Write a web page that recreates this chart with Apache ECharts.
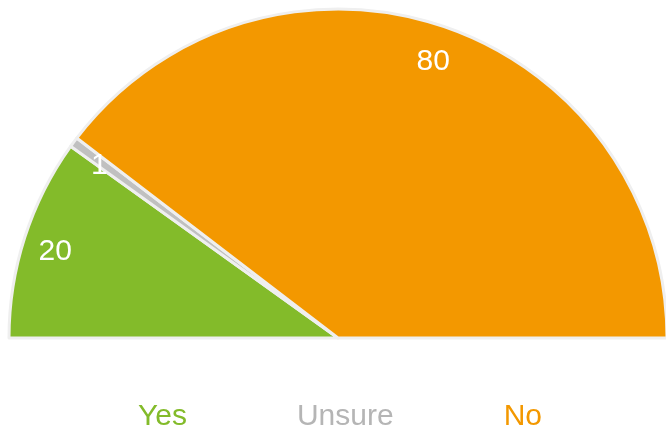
<!DOCTYPE html>
<html>
<head>
<meta charset="utf-8">
<script src="https://cdn.jsdelivr.net/npm/echarts@6/dist/echarts.min.js"></script>
<style>html,body{margin:0;padding:0;background:#fff;}#c{width:666px;height:430px;}</style>
</head>
<body>
<div id="c"></div>
<script>
var categories = ['Yes', 'Unsure', 'No'];
var values = [20, 1, 80];
var colors = ['#83bb2a', '#c0c0c0', '#f39800'];

var data = categories.map(function (n, i) {
  return { name: n, value: values[i], itemStyle: { color: colors[i] } };
});
var labelData = categories.map(function (n, i) {
  return { name: n, value: values[i] };
});

var chart = echarts.init(document.getElementById('c'), null, { renderer: 'canvas' });
chart.setOption({
  animation: false,
  backgroundColor: '#ffffff',
  legend: {
    left: 128,
    top: 397,
    icon: 'none',
    itemWidth: 0,
    itemGap: 105,
    textStyle: { fontSize: 30, fontFamily: 'Liberation Sans, Arial, sans-serif' },
    data: categories.map(function (n, i) {
      return { name: n, textStyle: { color: i === 1 ? '#b5b5b5' : colors[i] } };
    }),
    selectedMode: false
  },
  series: [
    {
      type: 'pie',
      center: [338, 338],
      radius: [0, 329],
      startAngle: 180,
      endAngle: 0,
      clockwise: true,
      silent: true,
      itemStyle: { borderColor: '#efefef', borderWidth: 3 },
      label: { show: false },
      labelLine: { show: false },
      data: data
    },
    {
      type: 'pie',
      center: [338, 338],
      radius: [259, 329],
      startAngle: 180,
      endAngle: 0,
      clockwise: true,
      silent: true,
      legendHoverLink: false,
      itemStyle: { color: 'rgba(0,0,0,0)', borderWidth: 0 },
      label: {
        show: true,
        position: 'inside',
        formatter: '{c}',
        color: '#ffffff',
        fontSize: 30,
        offset: [0, 5],
        fontFamily: 'Liberation Sans, Arial, sans-serif'
      },
      labelLine: { show: false },
      data: labelData
    }
  ]
});
</script>
</body>
</html>
